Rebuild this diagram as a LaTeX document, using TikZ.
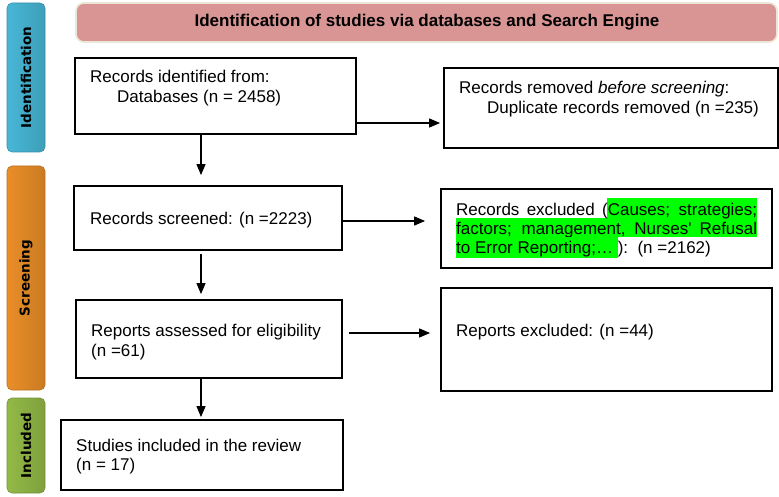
\documentclass[tikz,border=0pt]{standalone}
\usepackage{fontspec}
\setmainfont{Liberation Sans}
\newfontfamily\sidefont{DejaVu Sans}
\usetikzlibrary{arrows.meta}
\definecolor{hdrfill}{RGB}{217,149,148}
\definecolor{hdredge}{RGB}{236,230,214}
\definecolor{idblue}{RGB}{75,193,225}
\definecolor{scorange}{RGB}{246,150,42}
\definecolor{ingreen}{RGB}{155,195,75}
\definecolor{hlgreen}{RGB}{0,255,0}
\tikzset{
  boxnode/.style={draw=black, line width=1.8pt, rectangle, inner sep=0pt},
  txt/.style={anchor=base west, inner sep=0pt, font=\fontsize{17}{19.5}\selectfont},
  arr/.style={draw=black, line width=1.2pt, -{Triangle[length=11pt,width=9pt]}},
  sidebar/.style={rounded corners=5pt, minimum width=38pt, inner sep=0pt, line width=0.6pt},
  sidetext/.style={rotate=90, inner sep=0pt, font=\sidefont\bfseries\fontsize{13.5}{15}\selectfont, text=black},
}
\begin{document}
\begin{tikzpicture}[x=1pt,y=-1pt]
\useasboundingbox (0,0) rectangle (779,497);

% header
\node[draw=hdredge, line width=1.6pt, fill=hdrfill, rounded corners=8pt,
      minimum width=701pt, minimum height=39pt, inner sep=0pt] (hdr) at (426.5,22.5) {};
\node[inner sep=0pt, font=\bfseries\fontsize{17}{19.5}\selectfont] (hdrtxt) at (427,22.5)
  {Identification of studies via databases and Search Engine};

% side bars
\node[sidebar, minimum height=149pt, draw=idblue!75!black,
      left color=idblue!95!black, middle color=idblue!92!white, right color=idblue!82!black] (sid) at (26,77.5) {};
\node[sidetext] (sidtxt) at (sid.center) {Identification};
\node[sidebar, minimum height=224pt, draw=scorange!75!black,
      left color=scorange!95!black, middle color=scorange!90!white, right color=scorange!82!black] (ssc) at (26,278) {};
\node[sidetext] (ssctxt) at (ssc.center) {Screening};
\node[sidebar, minimum height=95pt, draw=ingreen!75!black,
      left color=ingreen!95!black, middle color=ingreen!92!white, right color=ingreen!82!black] (sin) at (26,445.5) {};
\node[sidetext] (sintxt) at (sin.center) {Included};

% boxes
\node[boxnode, minimum width=281pt, minimum height=76pt] (b1) at (215.5,96) {};
\node[boxnode, minimum width=334pt, minimum height=80pt] (b2) at (611,108) {};
\node[boxnode, minimum width=268pt, minimum height=64pt] (b3) at (208,218) {};
\node[boxnode, minimum width=331pt, minimum height=79pt] (b4) at (606.5,228.5) {};
\node[boxnode, minimum width=266pt, minimum height=78pt] (b5) at (209,339) {};
\node[boxnode, minimum width=331pt, minimum height=103pt] (b6) at (606.5,339.5) {};
\node[boxnode, minimum width=282pt, minimum height=70pt] (b7) at (202,455) {};

% highlight behind excluded reasons (lines 1 and 2)
\fill[hlgreen] (607,198) rectangle (757,218);
\fill[hlgreen] (456,218) rectangle (757,237.5);

% texts
\node[txt] (t1a) at (90,83) {Records identified from:};
\node[txt] (t1b) at (117,103) {Databases (n = 2458)};
\node[txt] (t2a) at (459,94) {Records removed \textit{before screening}:};
\node[txt] (t2b) at (487,114) {Duplicate records removed (n =235)};
\node[txt] (t3) at (90,225) {Records screened: (n =2223)};
\node[txt] (t4a) at (456,215) {\makebox[301pt][s]{Records excluded (Causes; strategies;}};
\node[txt] (t4b) at (456,234.5) {\makebox[301pt][s]{factors; management, Nurses\textquotesingle{} Refusal}};
\node[txt] (t4c) at (456,254) {{\fboxsep=0pt\colorbox{hlgreen}{\rule[-3pt]{0pt}{20.5pt}to Error Reporting;… }}):\ \ (n =2162)};
\node[txt] (t5a) at (91,336) {Reports assessed for eligibility};
\node[txt] (t5b) at (91,356) {(n =61)};
\node[txt] (t6) at (456,336) {Reports excluded: (n =44)};
\node[txt] (t7a) at (76,451) {Studies included in the review};
\node[txt] (t7b) at (76,470) {(n = 17)};

% connectors
\coordinate (vx) at (201,0);
\coordinate (h1) at (0,123);
\coordinate (h2) at (0,221);
\coordinate (h3) at (0,333);
\draw[arr, shorten >=3pt] (b1.east |- h1) -- (b2.west |- h1);
\draw[arr, shorten >=10pt] (b1.south -| vx) -- (b3.north -| vx);
\draw[arr, shorten >=15pt] (b3.east |- h2) -- (b4.west |- h2);
\draw[arr, shorten <=3pt, shorten >=5pt] (b3.south -| vx) -- (b5.north -| vx);
\draw[arr, shorten <=6pt, shorten >=10pt] (b5.east |- h3) -- (b6.west |- h3);
\draw[arr, shorten >=2pt] (b5.south -| vx) -- (b7.north -| vx);
\end{tikzpicture}
\end{document}
